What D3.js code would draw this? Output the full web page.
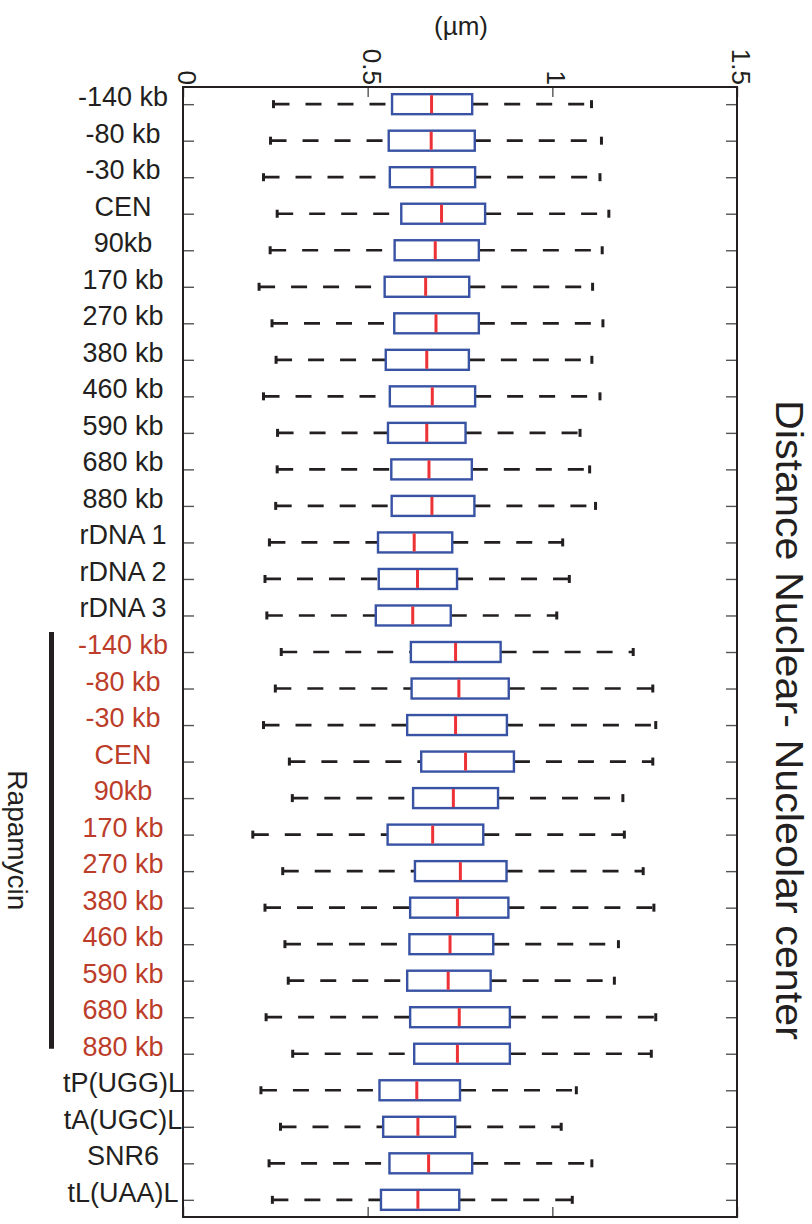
<!DOCTYPE html>
<html>
<head>
<meta charset="utf-8">
<script src="https://cdn.jsdelivr.net/npm/d3@7"></script>
<style>
  body { margin: 0; background: #fff; }
  text { font-family: "Liberation Sans", Arial, Helvetica, sans-serif; fill: #231f20; }
</style>
</head>
<body>
<div id="chart"></div>
<script>
// Kategorien (von oben nach unten)
const categories = ["-140 kb", "-80 kb", "-30 kb", "CEN", "90kb", "170 kb", "270 kb", "380 kb",
    "460 kb", "590 kb", "680 kb", "880 kb", "rDNA 1", "rDNA 2", "rDNA 3",
    "-140 kb", "-80 kb", "-30 kb", "CEN", "90kb", "170 kb", "270 kb", "380 kb",
    "460 kb", "590 kb", "680 kb", "880 kb",
    "tP(UGG)L", "tA(UGC)L", "SNR6", "tL(UAA)L"];
const rapamycin = [0, 0, 0, 0, 0, 0, 0, 0, 0, 0, 0, 0, 0, 0, 0,
    1, 1, 1, 1, 1, 1, 1, 1, 1, 1, 1, 1, 0, 0, 0, 0];

// Boxplot-Werte (µm)
const whiskerLow = [0.245, 0.237, 0.218, 0.255, 0.236, 0.206, 0.241, 0.252, 0.218, 0.256, 0.255, 0.251, 0.234, 0.222, 0.227,
    0.266, 0.250, 0.218, 0.288, 0.296, 0.189, 0.270, 0.222, 0.276, 0.285, 0.225, 0.297, 0.211, 0.264, 0.233, 0.242];
const q1 = [0.566, 0.557, 0.560, 0.591, 0.573, 0.546, 0.572, 0.549, 0.560, 0.555, 0.564, 0.565, 0.528, 0.530, 0.522,
    0.617, 0.619, 0.607, 0.645, 0.623, 0.554, 0.628, 0.615, 0.613, 0.607, 0.615, 0.626, 0.532, 0.542, 0.559, 0.536];
const median = [0.673, 0.672, 0.674, 0.700, 0.683, 0.657, 0.685, 0.660, 0.675, 0.660, 0.666, 0.674, 0.626, 0.635, 0.622,
    0.738, 0.747, 0.738, 0.765, 0.732, 0.676, 0.751, 0.743, 0.723, 0.718, 0.748, 0.743, 0.633, 0.636, 0.665, 0.636];
const q3 = [0.783, 0.790, 0.791, 0.818, 0.801, 0.775, 0.801, 0.774, 0.791, 0.765, 0.782, 0.789, 0.729, 0.742, 0.725,
    0.860, 0.882, 0.877, 0.896, 0.853, 0.813, 0.876, 0.881, 0.840, 0.833, 0.885, 0.885, 0.750, 0.737, 0.783, 0.748];
const whiskerHigh = [1.106, 1.133, 1.129, 1.153, 1.135, 1.109, 1.137, 1.107, 1.129, 1.075, 1.101, 1.117, 1.028, 1.046, 1.012,
    1.219, 1.272, 1.280, 1.272, 1.191, 1.195, 1.246, 1.275, 1.179, 1.168, 1.280, 1.268, 1.065, 1.024, 1.107, 1.054];

const xTicks = [0, 0.5, 1, 1.5];

const data = categories.map((c, i) => ({
    id: i, label: c, rapa: rapamycin[i] === 1,
    lo: whiskerLow[i], q1: q1[i], med: median[i], q3: q3[i], hi: whiskerHigh[i]
}));

const margin = { top: 87, right: 75, bottom: 7, left: 183 };
const width = 812 - margin.left - margin.right;
const height = 1224 - margin.top - margin.bottom;

const x = d3.scaleLinear().domain([0, 1.5]).range([0, width]);
const y = d3.scalePoint().domain(data.map(d => d.id)).range([0, height]).padding(0.47);

const svgRoot = d3.select("#chart").append("svg")
    .attr("width", 812)
    .attr("height", 1224);
const svg = svgRoot.append("g")
    .attr("transform", `translate(${margin.left},${margin.top})`);

// Achsen mit nach innen zeigenden Ticks
const tickColor = "#555";
svg.append("g")
    .call(d3.axisLeft(y).tickSize(-11).tickFormat(""))
    .call(g => g.select(".domain").remove())
    .call(g => g.selectAll("line").attr("stroke", tickColor).attr("stroke-width", 1.4));
svg.append("g")
    .attr("transform", `translate(${width},0)`)
    .call(d3.axisRight(y).tickSize(-11).tickFormat(""))
    .call(g => g.select(".domain").remove())
    .call(g => g.selectAll("line").attr("stroke", tickColor).attr("stroke-width", 1.4));
svg.append("g")
    .call(d3.axisTop(x).tickValues(xTicks).tickSize(-10).tickFormat(""))
    .call(g => g.select(".domain").remove())
    .call(g => g.selectAll("line").attr("stroke", tickColor).attr("stroke-width", 1.4));
svg.append("g")
    .attr("transform", `translate(0,${height})`)
    .call(d3.axisBottom(x).tickValues(xTicks).tickSize(-10).tickFormat(""))
    .call(g => g.select(".domain").remove())
    .call(g => g.selectAll("line").attr("stroke", tickColor).attr("stroke-width", 1.4));

// x-Tick-Beschriftungen, gedreht
svg.selectAll(".xlabel")
    .data(xTicks)
    .enter()
    .append("text")
    .attr("class", "xlabel")
    .attr("transform", d => `translate(${x(d)},-2) rotate(90)`)
    .attr("dy", 5)
    .attr("text-anchor", "end")
    .style("font-size", "26px")
    .text(d => d3.format("")(d));

// Rahmen
svg.append("rect")
    .attr("width", width)
    .attr("height", height)
    .attr("fill", "none")
    .attr("stroke", "#231f20")
    .attr("stroke-width", 2);

// Whisker (gestrichelt)
const whiskerStyle = sel => sel
    .attr("stroke", "#231f20")
    .attr("stroke-width", 2.7)
    .attr("stroke-dasharray", "16,16");
svg.selectAll(".wlo")
    .data(data).enter().append("line")
    .attr("x1", d => x(d.lo)).attr("x2", d => x(d.q1))
    .attr("y1", d => y(d.id)).attr("y2", d => y(d.id))
    .call(whiskerStyle);
svg.selectAll(".whi")
    .data(data).enter().append("line")
    .attr("x1", d => x(d.q3)).attr("x2", d => x(d.hi))
    .attr("y1", d => y(d.id)).attr("y2", d => y(d.id))
    .call(whiskerStyle);

// Whisker-Enden
const capH = 4;
["lo", "hi"].forEach(k => {
    svg.selectAll(".cap-" + k)
        .data(data).enter().append("line")
        .attr("x1", d => x(d[k])).attr("x2", d => x(d[k]))
        .attr("y1", d => y(d.id) - capH).attr("y2", d => y(d.id) + capH)
        .attr("stroke", "#231f20")
        .attr("stroke-width", 3);
});

// Boxen
const boxH = 20;
svg.selectAll(".box")
    .data(data).enter().append("rect")
    .attr("x", d => x(d.q1))
    .attr("y", d => y(d.id) - boxH / 2)
    .attr("width", d => x(d.q3) - x(d.q1))
    .attr("height", boxH)
    .attr("fill", "#fff")
    .attr("stroke", "#3953a4")
    .attr("stroke-width", 2.4);

// Mediane
svg.selectAll(".med")
    .data(data).enter().append("line")
    .attr("x1", d => x(d.med)).attr("x2", d => x(d.med))
    .attr("y1", d => y(d.id) - boxH / 2 + 1).attr("y2", d => y(d.id) + boxH / 2 - 1)
    .attr("stroke", "#ed3237")
    .attr("stroke-width", 3);

// Kategorie-Beschriftungen
svg.selectAll(".ylabel")
    .data(data).enter().append("text")
    .attr("x", 123 - margin.left)
    .attr("y", d => y(d.id))
    .attr("dy", 2)
    .attr("text-anchor", "middle")
    .style("font-size", "27px")
    .style("fill", d => d.rapa ? "#bc3d2a" : "#231f20")
    .text(d => d.label);

// Einheit oben
svgRoot.append("text")
    .attr("x", 461)
    .attr("y", 35)
    .attr("text-anchor", "middle")
    .style("font-size", "26px")
    .text("(µm)");

// Rapamycin-Balken und Beschriftung
const rapaRows = data.filter(d => d.rapa);
const barTop = margin.top + y(rapaRows[0].id) - 20;
const barBottom = margin.top + y(rapaRows[rapaRows.length - 1].id) - 5;
svgRoot.append("line")
    .attr("x1", 51.5).attr("x2", 51.5)
    .attr("y1", barTop).attr("y2", barBottom)
    .attr("stroke", "#231f20")
    .attr("stroke-width", 5);
svgRoot.append("text")
    .attr("transform", `translate(8,${(barTop + barBottom) / 2}) rotate(90)`)
    .attr("text-anchor", "middle")
    .style("font-size", "28px")
    .text("Rapamycin");

// Titel rechts
svgRoot.append("text")
    .attr("transform", "translate(776,720) rotate(90)")
    .attr("text-anchor", "middle")
    .attr("textLength", 640)
    .attr("lengthAdjust", "spacingAndGlyphs")
    .style("font-size", "38px")
    .text("Distance Nuclear- Nucleolar center");
</script>
</body>
</html>
